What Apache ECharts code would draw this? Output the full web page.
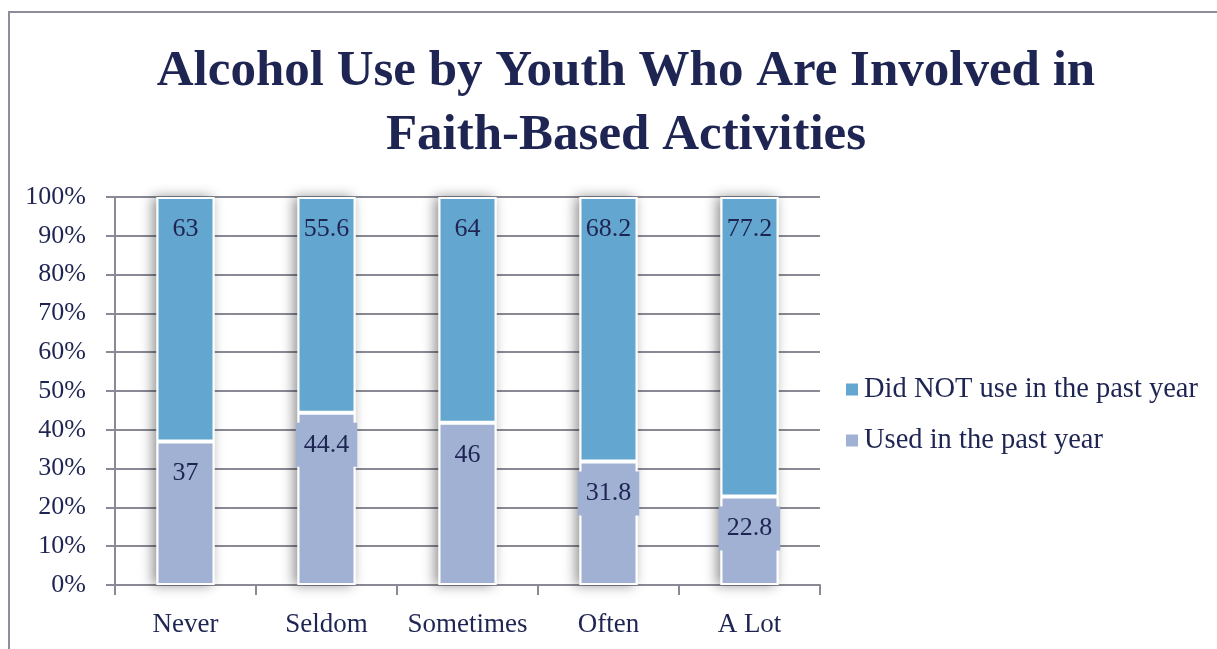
<!DOCTYPE html>
<html>
<head>
<meta charset="utf-8">
<style>
  html, body { margin: 0; padding: 0; background: #fff; }
  #frame { position: absolute; left: 8px; top: 11px; right: -4px; bottom: -4px; border: 2px solid #8e8e9a; box-sizing: border-box; }
  #chart { position: absolute; left: 0; top: 0; width: 1217px; height: 649px; }
</style>
<script src="https://cdn.jsdelivr.net/npm/echarts@6/dist/echarts.min.js"></script>
</head>
<body>
<div id="frame"></div>
<div id="chart"></div>
<script>
// Survey responses by frequency of faith-based activity involvement
const categories = ['Never', 'Seldom', 'Sometimes', 'Often', 'A Lot'];
const usedPastYear = [37, 44.4, 46, 31.8, 22.8];
const didNotUse = [63, 55.6, 64, 68.2, 77.2];

// 100% stacked: each column is shown as a share of its own total
const totals = categories.map((_, i) => usedPastYear[i] + didNotUse[i]);
const usedShare = usedPastYear.map((v, i) => v / totals[i] * 100);
const notShare = didNotUse.map((v, i) => v / totals[i] * 100);
const columnShare = usedShare.map((v, i) => v + notShare[i]);

const FONT = '"Liberation Serif", "DejaVu Serif", serif';
const INK = '#1f2552';
const GRIDC = '#8a8a96';
const UPPER = '#63a6cf';
const LOWER = '#a0b1d3';
const BAR_W = 58;

const chart = echarts.init(document.getElementById('chart'), null, { renderer: 'canvas' });

const barStyle = (color) => ({
  color: color,
  borderColor: '#ffffff',
  borderWidth: 2
});

const valueLabel = (values, bg) => ({
  show: true,
  position: 'insideTop',
  distance: 10,
  formatter: (p) => String(values[p.dataIndex]),
  fontFamily: FONT,
  fontSize: 26,
  color: INK,
  backgroundColor: bg,
  padding: [9, 8, 9, 8]
});

chart.setOption({
  animation: false,
  title: {
    text: 'Alcohol Use by Youth Who Are Involved in\nFaith-Based Activities',
    left: 621,
    textAlign: 'center',
    top: 35,
    textStyle: {
      fontFamily: FONT,
      fontWeight: 'bold',
      fontSize: 51,
      lineHeight: 64,
      color: INK
    }
  },
  legend: {
    orient: 'vertical',
    left: 839,
    top: 370,
    itemWidth: 14,
    itemHeight: 14,
    itemGap: 22,
    icon: 'rect',
    data: ['Did NOT use in the past year', 'Used in the past year'],
    textStyle: { fontFamily: FONT, fontSize: 28.5, color: INK }
  },
  grid: { left: 115, right: 397, top: 197, bottom: 64 },
  xAxis: {
    type: 'category',
    data: categories,
    axisLine: { lineStyle: { color: GRIDC, width: 2 } },
    axisTick: { show: true, interval: 0, length: 10, lineStyle: { color: GRIDC, width: 2 } },
    axisLabel: { interval: 0, fontFamily: FONT, fontSize: 27, color: INK, margin: 26 }
  },
  yAxis: {
    type: 'value',
    min: 0,
    max: 100,
    interval: 10,
    axisLine: { show: true, lineStyle: { color: GRIDC, width: 2 } },
    axisTick: { show: true, length: 9, lineStyle: { color: GRIDC, width: 2 } },
    splitLine: { lineStyle: { color: GRIDC, width: 2 } },
    axisLabel: { formatter: '{value}%', fontFamily: FONT, fontSize: 26, color: INK, margin: 29 }
  },
  series: [
    {
      name: 'Used in the past year',
      type: 'bar',
      stack: 'total',
      barWidth: BAR_W,
      barGap: '-100%',
      z: 3,
      data: usedShare,
      itemStyle: barStyle(LOWER),
      label: valueLabel(usedPastYear, LOWER)
    },
    {
      name: 'Did NOT use in the past year',
      type: 'bar',
      stack: 'total',
      barWidth: BAR_W,
      barGap: '-100%',
      z: 3,
      data: notShare,
      itemStyle: barStyle(UPPER),
      label: valueLabel(didNotUse, 'transparent')
    },
    {
      // soft drop shadow behind each full column
      name: 'column',
      type: 'bar',
      barWidth: BAR_W,
      barGap: '-100%',
      z: 1,
      silent: true,
      data: columnShare,
      itemStyle: {
        color: '#ffffff',
        shadowBlur: 12,
        shadowOffsetX: -4,
        shadowColor: 'rgba(0,0,0,0.45)'
      }
    }
  ]
});
</script>
</body>
</html>
